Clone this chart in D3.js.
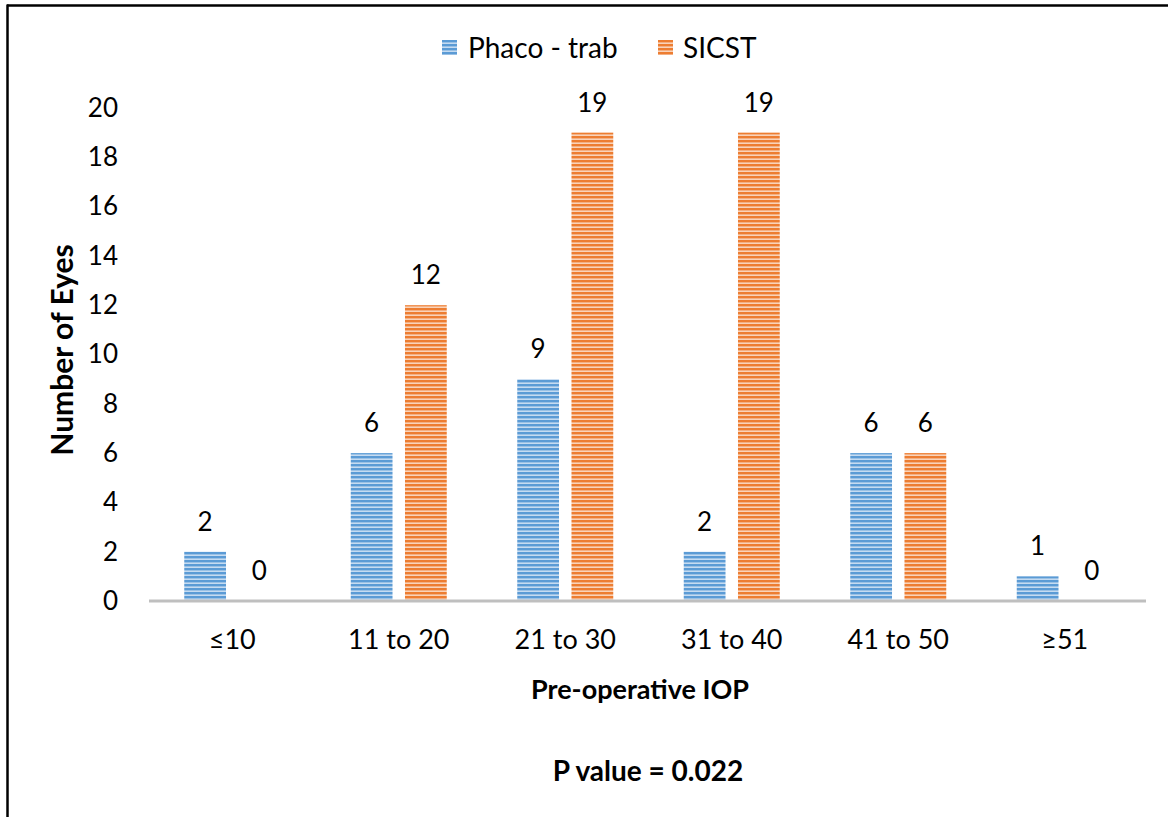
<!DOCTYPE html>
<html><head><meta charset="utf-8">
<script src="https://cdn.jsdelivr.net/npm/d3@7"></script>
<style>body{margin:0;background:#fff}svg{display:block}text{font-family:Lato,"Open Sans",sans-serif;fill:#000}</style>
</head><body><svg id="c" width="1168" height="817"></svg>
<script>
const categories = ["≤10","11 to 20","21 to 30","31 to 40","41 to 50","≥51"];
const seriesNames = ["Phaco - trab","SICST"];
const phacoTrab = [2,6,9,2,6,1];
const sicst = [0,12,19,19,6,0];
const yTicks = [0,2,4,6,8,10,12,14,16,18,20];
const colors = ["#5B9BD5","#ED7D31"];
const lightColors = ["#C5DBF1","#F9D3B9"];

const svg = d3.select("#c");
const defs = svg.append("defs");
colors.forEach((c,i)=>{
  const p = defs.append("pattern").attr("id","pat"+i).attr("patternUnits","userSpaceOnUse")
    .attr("width",8).attr("height",4);
  p.append("rect").attr("width",8).attr("height",4).attr("fill",lightColors[i]);
  p.append("rect").attr("width",8).attr("height",2.4).attr("fill",c);
});

// frame
svg.append("line").attr("x1",7).attr("x2",1168).attr("y1",5.5).attr("y2",5.5).attr("stroke","#000").attr("stroke-width",2.5);
svg.append("line").attr("x1",7.5).attr("x2",7.5).attr("y1",4.5).attr("y2",817).attr("stroke","#000").attr("stroke-width",2.5);

const x = d3.scaleBand().domain(categories).range([149,1148]);
const y = d3.scaleLinear().domain([0,20]).range([601,108]);
const inner = d3.scaleBand().domain(seriesNames).range([-48,48]).paddingInner(0.23);

// y axis labels
const yAxis = d3.axisLeft(y).tickValues(yTicks).tickSize(0).tickPadding(0);
const ga = svg.append("g").attr("transform","translate(118,0)").call(yAxis);
ga.select(".domain").remove();
ga.selectAll("text").attr("font-size",26).attr("font-family","Lato").attr("fill","#000").attr("text-anchor","end");

// x axis
const xAxis = d3.axisBottom(x).tickSize(0).tickPadding(0);
const gx = svg.append("g").attr("transform","translate(0,630)").call(xAxis);
gx.select(".domain").remove();
gx.selectAll("text").attr("font-size",27).attr("font-family","Lato").attr("fill","#000").attr("dy","0.72em");

const data = [phacoTrab, sicst];
data.forEach((vals,si)=>{
  const g = svg.append("g");
  g.selectAll("rect").data(vals).join("rect")
    .attr("x",(d,i)=>x(categories[i])+x.bandwidth()/2+inner(seriesNames[si]))
    .attr("width",inner.bandwidth())
    .attr("y",d=>y(d)).attr("height",d=>y(0)-y(d))
    .attr("fill","url(#pat"+si+")");
  g.selectAll("text").data(vals).join("text")
    .attr("x",(d,i)=>x(categories[i])+x.bandwidth()/2+inner(seriesNames[si])+inner.bandwidth()/2)
    .attr("y",d=>y(d)-21)
    .attr("text-anchor","middle").attr("font-size",26)
    .text(d=>d);
});

// baseline axis
svg.append("line").attr("x1",149).attr("x2",1146).attr("y1",y(0)).attr("y2",y(0)).attr("stroke","#BFBFBF").attr("stroke-width",3);

// titles
svg.append("text").attr("x",640).attr("y",699).attr("text-anchor","middle").attr("font-size",27).attr("font-weight","bold").text("Pre-operative IOP");
svg.append("text").attr("transform","translate(73,350) rotate(-90)").attr("text-anchor","middle").attr("font-size",30).attr("font-weight","bold").text("Number of Eyes");
svg.append("text").attr("x",648).attr("y",781).attr("text-anchor","middle").attr("font-size",28).attr("font-weight","bold").text("P value = 0.022");

// legend
const leg = [{x:442,tx:468},{x:658,tx:683}];
seriesNames.forEach((n,i)=>{
  svg.append("rect").attr("x",leg[i].x).attr("y",40).attr("width",15).attr("height",15).attr("fill","url(#pat"+i+")");
  svg.append("text").attr("x",leg[i].tx).attr("y",58).attr("font-size",28).text(n);
});
</script></body></html>
